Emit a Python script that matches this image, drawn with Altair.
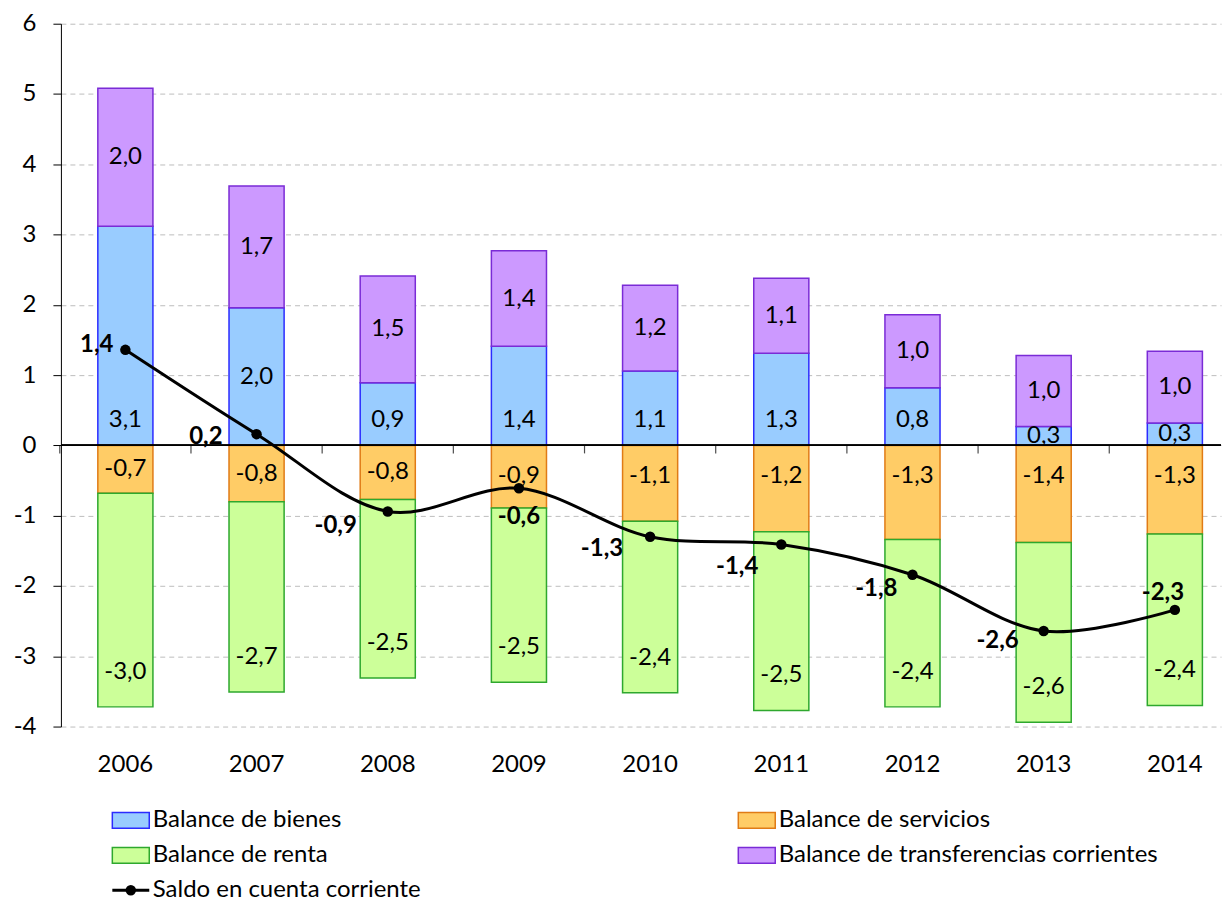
import altair as alt
import pandas as pd

years = ["2006", "2007", "2008", "2009", "2010", "2011", "2012", "2013", "2014"]
bienes = [3.12, 1.96, 0.89, 1.41, 1.06, 1.31, 0.82, 0.27, 0.32]
servicios = [-0.68, -0.80, -0.77, -0.89, -1.08, -1.23, -1.34, -1.38, -1.26]
renta = [-3.04, -2.71, -2.54, -2.48, -2.44, -2.54, -2.38, -2.56, -2.44]
transferencias = [1.96, 1.73, 1.52, 1.36, 1.22, 1.07, 1.04, 1.01, 1.02]
saldo = [1.36, 0.16, -0.94, -0.61, -1.30, -1.41, -1.84, -2.64, -2.34]

series_names = [
    "Balance de bienes",
    "Balance de servicios",
    "Balance de renta",
    "Balance de transferencias corrientes",
]
line_name = "Saldo en cuenta corriente"
y_ticks = [-4, -3, -2, -1, 0, 1, 2, 3, 4, 5, 6]

fills = ["#99CCFF", "#FFCC66", "#CCFF99", "#CC99FF"]
strokes = ["#2B2BFF", "#E07B16", "#2EA82E", "#7A2BD6"]
FONT = "Lato"
FS = 24

rows = []
for s_i, (name, vals) in enumerate(zip(series_names, [bienes, servicios, renta, transferencias])):
    for y, v in zip(years, vals):
        rows.append({"year": y, "series": name, "value": v, "ord": s_i})
bars_df = pd.DataFrame(rows)
line_df = pd.DataFrame({"year": years, "value": saldo})

W, H = 1162, 704
x_scale = alt.Scale(domain=years, paddingInner=0.58, paddingOuter=0.2116, align=0.665)
y_scale = alt.Scale(domain=[-4, 6], nice=False, zero=False)
fill_scale = alt.Scale(domain=series_names, range=fills)
stroke_scale = alt.Scale(domain=series_names, range=strokes)
FMT = "replace(replace(format(datum.value, '.1f'), '.', ','), '\u2212', '-')"

x_enc = alt.X(
    "year:N", scale=x_scale, title=None,
    axis=alt.Axis(domain=False, ticks=False, labelPadding=26, labelFontSize=FS,
                  labelAngle=0, labelColor="#000000", labelFont=FONT, grid=False),
)

# label anchors inside each segment, as placed in the original chart (style)
base = alt.Chart(bars_df).transform_stack(
    stack="value", groupby=["year"], as_=["v0", "v1"], sort=[alt.SortField("ord")]
).transform_calculate(
    mid="(datum.v0 + datum.v1) / 2",
    lab=FMT,
).transform_calculate(
    ly="datum.ord == 0 ? (datum.year == '2007' ? datum.mid : min(datum.mid, 0.36))"
       " : datum.ord == 1 ? max(datum.mid, -0.44)"
       " : datum.ord == 2 ? min(datum.v0, datum.v1) + 0.5 : datum.mid"
)

bars = base.mark_bar(strokeWidth=1.5).encode(
    x=x_enc,
    y=alt.Y("v0:Q", scale=y_scale, title=None,
            axis=alt.Axis(values=y_ticks, format="d", labelFontSize=FS, labelFont=FONT,
                          labelColor="#000000",
                          labelExpr="replace(datum.label, '\u2212', '-')",
                          tickSize=8, tickColor="#000000", domainColor="#000000",
                          labelPadding=17, minExtent=47, maxExtent=47,
                          gridColor="#BDBDBD", gridDash=[5, 4], gridWidth=1)),
    y2="v1:Q",
    fill=alt.Fill("series:N", scale=fill_scale, legend=None),
    stroke=alt.Stroke("series:N", scale=stroke_scale, legend=None),
)

bar_labels = base.mark_text(fontSize=FS, font=FONT, color="#000000").encode(
    x=alt.X("year:N", scale=x_scale),
    y=alt.Y("ly:Q", scale=y_scale),
    text="lab:N",
)

zero_rule = alt.Chart(line_df).mark_rule(color="#000000", strokeWidth=1.3).encode(
    y=alt.datum(0, scale=y_scale)
)
zero_ticks = alt.Chart(line_df).mark_tick(
    color="#000000", orient="vertical", size=8, yOffset=4, xOffset=-65.7, thickness=1.2
).encode(x=alt.X("year:N", scale=x_scale), y=alt.datum(0, scale=y_scale))

line = alt.Chart(line_df).mark_line(
    color="#000000", strokeWidth=3, interpolate="catmull-rom"
).encode(x=alt.X("year:N", scale=x_scale), y=alt.Y("value:Q", scale=y_scale))
points = alt.Chart(line_df).mark_point(
    filled=True, color="#000000", size=110, opacity=1
).encode(x=alt.X("year:N", scale=x_scale), y=alt.Y("value:Q", scale=y_scale))

# label placement for the line values (style): year -> (align, dx, dy)
label_place = {
    "2006": ("right", -12, -5),
    "2007": ("right", -34, 3),
    "2008": ("right", -31, 15),
    "2009": ("center", 0, 29),
    "2010": ("right", -27, 12),
    "2011": ("right", -23, 23),
    "2012": ("right", -15, 14),
    "2013": ("right", -25, 10),
    "2014": ("center", -12, -17),
}
line_labels = []
for yr, (al, dx, dy) in label_place.items():
    line_labels.append(
        alt.Chart(line_df).transform_filter(alt.datum.year == yr).transform_calculate(lab=FMT)
        .mark_text(fontSize=FS, font=FONT, fontWeight="bold", color="#000000",
                   align=al, dx=dx, dy=dy, baseline="middle")
        .encode(x=alt.X("year:N", scale=x_scale), y=alt.Y("value:Q", scale=y_scale), text="lab:N")
    )

main = alt.layer(bars, bar_labels, zero_rule, zero_ticks, line, points, *line_labels).properties(
    width=W, height=H
)

# legend panel
leg_rows = []
for i, name in enumerate(series_names):
    leg_rows.append({"name": name, "col": i % 2, "row": i // 2})
leg_df = pd.DataFrame(leg_rows)
line_leg_df = pd.DataFrame([{"name": line_name, "col": 0, "row": 2}])

lx = alt.Scale(domain=[0, 1], range=[70, 697])
ly = alt.Scale(domain=[0, 2], range=[15, 85])
swatch = alt.Chart(leg_df).mark_point(
    shape="M-1,-0.43H1V0.43H-1Z", size=1369, filled=True, strokeWidth=1.5, opacity=1
).encode(
    x=alt.X("col:Q", scale=lx, axis=None),
    y=alt.Y("row:Q", scale=ly, axis=None),
    fill=alt.Fill("name:N", scale=fill_scale, legend=None),
    stroke=alt.Stroke("name:N", scale=stroke_scale, legend=None),
)
leg_text = alt.Chart(pd.concat([leg_df, line_leg_df])).mark_text(
    align="left", dx=22, fontSize=FS, font=FONT, color="#000000", baseline="middle"
).encode(
    x=alt.X("col:Q", scale=lx, axis=None),
    y=alt.Y("row:Q", scale=ly, axis=None),
    text="name:N",
)
leg_line = alt.Chart(line_leg_df).mark_point(
    shape="M-1,0H1", size=1369, stroke="#000000", strokeWidth=3, filled=False, opacity=1
).encode(x=alt.X("col:Q", scale=lx, axis=None), y=alt.Y("row:Q", scale=ly, axis=None))
leg_dot = alt.Chart(line_leg_df).mark_point(
    filled=True, color="#000000", size=110, opacity=1
).encode(x=alt.X("col:Q", scale=lx, axis=None), y=alt.Y("row:Q", scale=ly, axis=None))

legend = alt.layer(swatch, leg_line, leg_dot, leg_text).properties(width=W, height=86)

chart = alt.vconcat(main, legend, spacing=29).properties(
    padding={"left": 5, "top": 3, "right": 0, "bottom": 0}
).resolve_scale(
    x="independent", y="independent", fill="independent", stroke="independent"
).configure(font=FONT).configure_view(stroke="transparent", strokeWidth=0)

chart.save("out.html", embed_options={"renderer": "svg", "actions": False})
